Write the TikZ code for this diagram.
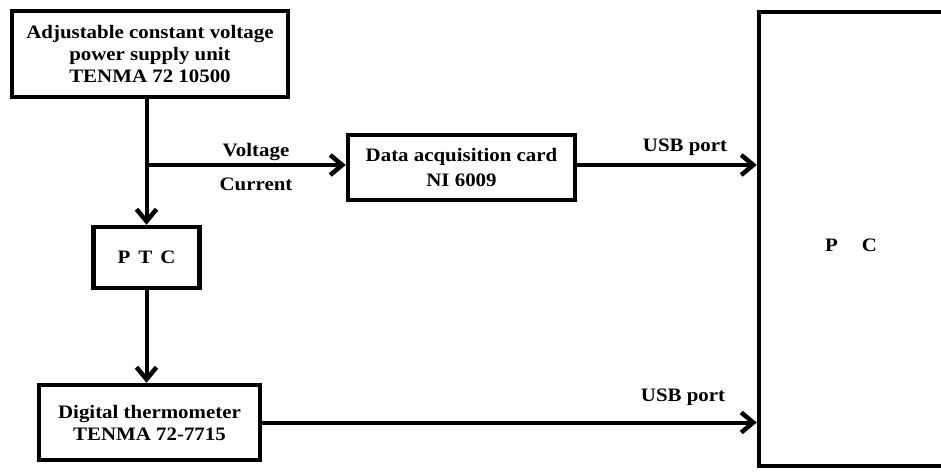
\documentclass[tikz,border=0pt]{standalone}
\usepackage{fontspec}
\setmainfont{Liberation Serif}[FakeStretch=1.1]
\usetikzlibrary{arrows.meta}
\begin{document}
\begin{tikzpicture}[x=1pt,y=-1pt,
  box/.style={draw=black,line width=4.5pt,fill=white,inner sep=0pt,align=center,
    font=\fontsize{19}{22}\selectfont\bfseries},
  conn/.style={line width=4pt,-{Straight Barb[length=12pt,width=20pt,line width=4.5pt]}},
  lbl/.style={inner sep=0pt,font=\fontsize{19}{22}\selectfont\bfseries}]
\useasboundingbox (0,0) rectangle (941,471);
\clip (0,0) rectangle (941,471);
\node[box,minimum width=276pt,minimum height=86pt] (psu) at (150,54)
  {Adjustable constant voltage\\power supply unit\\TENMA 72 10500};
\node[box,minimum width=227pt,minimum height=65pt,font=\fontsize{19}{25}\selectfont\bfseries] (daq) at (461.5,167.5)
  {Data acquisition card\\NI 6009};
\node[box,minimum width=106pt,minimum height=61pt] (ptc) at (146.5,257.5)
  {P\hspace{8pt}T\hspace{8pt}C};
\node[box,minimum width=221pt,minimum height=75pt] (thermo) at (149.5,422.5)
  {Digital thermometer\\TENMA 72-7715};
\node[box,minimum width=210pt,minimum height=454pt] (pc) at (864,239) {};
\node[lbl] (pctext) at (851,245) {P\hspace{24pt}C};
\coordinate (branch) at (146.5,165);
\draw[conn] (psu.south -| ptc.north) -- (ptc.north);
\draw[conn] (branch) -- (daq.west |- branch);
\draw[conn] (ptc.south) -- (thermo.north -| ptc.south);
\draw[conn] (daq.east |- branch) -- (pc.west |- branch);
\draw[conn] (thermo.east) -- (thermo.east -| pc.west);
\node[lbl] (volt) at (256,152) {Voltage};
\node[lbl] (curr) at (256,184) {Current};
\node[lbl] (usb1) at (685,147) {USB port};
\node[lbl] (usb2) at (683,397) {USB port};
\end{tikzpicture}
\end{document}
